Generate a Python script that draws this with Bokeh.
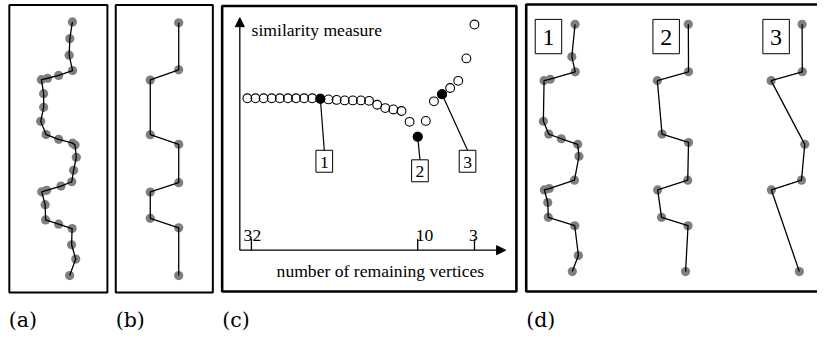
import numpy as np
from bokeh.plotting import figure
from bokeh.models import Range1d, Arrow, NormalHead
from bokeh.core.properties import value
from bokeh.embed import file_html
from bokeh.resources import INLINE

# ---------------- data ----------------
# (a) noisy polyline, shape units (x to the right, y downwards)
noisy_x = [32.3, 29.7, 29.0, 32.5, 18.3, 7.0, 0.7, 3.0, 3.0, 0.0, 5.5, 18.3, 32.5, 35.0,
           36.3, 33.5, 31.7, 20.7, 6.0, 1.0, 4.5, 5.0, 18.3, 32.0, 31.5, 35.7, 29.5]
noisy_y = [0.0, 17.5, 34.8, 51.0, 56.0, 59.0, 60.5, 75.2, 89.5, 104.2, 118.0, 123.0, 127.0, 129.0,
           141.8, 155.5, 167.5, 172.0, 176.5, 178.0, 191.5, 207.5, 212.0, 216.5, 233.5, 248.5, 265.8]
# (b) original polyline
clean_x = [29, 29, 0, 0, 29, 29, 0, 0, 29, 29]
clean_y = [0.8, 50.2, 60.8, 118.2, 128.2, 168.5, 178.2, 205.8, 215.8, 265.8]
# (d) simplifications 1, 2, 3: kept vertices of the noisy polyline
simpl_1 = [0, 2, 3, 5, 6, 9, 10, 11, 13, 14, 16, 18, 19, 20, 21, 23, 25, 26]
simpl_2 = [0, 3, 6, 10, 12, 16, 19, 21, 23, 26]
simpl_3 = [0, 3, 6, 13, 16, 19, 26]
# (c) similarity measure vs number of remaining vertices
n_vertices = list(range(31, 2, -1))
similarity = [1.592, 1.592, 1.592, 1.592, 1.592, 1.592, 1.592, 1.592, 1.592,
              1.587, 1.580, 1.575, 1.570, 1.570, 1.570, 1.565, 1.524, 1.489,
              1.475, 1.459, 1.345, 1.190, 1.355, 1.560, 1.635, 1.700, 1.775,
              2.010, 2.365]
marked_n = [22, 10, 7]
marked_labels = ["1", "2", "3"]
tick_labels = ["32", "10", "3"]
tick_pos = [30.5, 10, 3]
panel_labels = ["(a)", "(b)", "(c)", "(d)"]

SERIF = value("Liberation Serif")
GRAY = "#7f7f7f"

p = figure(width=817, height=332, output_backend="svg", toolbar_location=None,
           x_range=Range1d(0, 833), y_range=Range1d(348, 0),
           x_axis_type=None, y_axis_type=None, min_border=0)
p.outline_line_color = None
p.grid.visible = False
p.background_fill_color = "white"

# ---------- panel boxes ----------
p.quad(left=[9, 117.5], right=[109, 216.5], top=[4.8, 4.8], bottom=[306, 306],
       fill_alpha=0, line_color="black", line_width=2)
p.quad(left=[226, 536], right=[526, 860], top=[5.8, 4.2], bottom=[305, 305],
       fill_alpha=0, line_color="black", line_width=2.6)
p.text(x=[8.5, 117.5, 226, 536], y=[334.5] * 4, text=panel_labels,
       text_font=value("DejaVu Serif"), text_font_size="20.5px",
       text_baseline="alphabetic", text_align="left", text_color="black")


def draw_shape(xs, ys, x0, y0, sy):
    X = x0 + np.asarray(xs, float)
    Y = y0 + np.asarray(ys, float) * sy
    p.scatter(X, Y, size=9.2, fill_color=GRAY, line_color=None)
    p.line(X, Y, line_color="black", line_width=1.3)


nx = np.asarray(noisy_x)
ny = np.asarray(noisy_y)
# (a)
draw_shape(nx, ny, 41, 22.5, 1.0)
# (b)
draw_shape(clean_x, clean_y, 152.7, 22.5, 1.0)
# (d)
for idx, x0 in zip([simpl_1, simpl_2, simpl_3], [553.5, 669, 785]):
    draw_shape(nx[idx], ny[idx], x0, 25, 0.975)

# number boxes in (d)
dbox_x = [558.7, 678.7, 790.8]
p.rect(x=dbox_x, y=[37.8] * 3, width=27, height=36, fill_color="white",
       line_color="black", line_width=1)
p.text(x=dbox_x, y=[38.5] * 3, text=marked_labels, text_font=SERIF,
       text_font_size="24px", text_align="center", text_baseline="middle",
       text_color="black")

# ---------- panel (c) ----------
OX, OY = 244, 261.7
def cx(n):
    return 251.7 + (31 - np.asarray(n, float)) * 8.27
def cy(s):
    return OY - 100 * np.asarray(s, float)

p.add_layout(Arrow(end=NormalHead(size=9, fill_color="black", line_color="black"),
                   x_start=OX, y_start=OY, x_end=OX, y_end=18,
                   line_color="black", line_width=1.3))
p.add_layout(Arrow(end=NormalHead(size=9, fill_color="black", line_color="black"),
                   x_start=OX, y_start=OY, x_end=515, y_end=OY,
                   line_color="black", line_width=1.3))
tx = cx(tick_pos)
p.segment(x0=tx, y0=[250] * 3, x1=tx, y1=[OY] * 3, line_color="black", line_width=1.3)
p.text(x=tx + np.array([1.0, 7.0, -1.0]), y=[246.5] * 3, text=tick_labels,
       text_font=SERIF, text_font_size="17.6px", text_align="center",
       text_baseline="alphabetic", text_color="black")
p.text(x=[256], y=[30.5], text=["similarity measure"], text_font=SERIF,
       text_font_size="17.6px", text_align="left", text_baseline="alphabetic",
       text_color="black")
p.text(x=[281.5], y=[284], text=["number of remaining vertices"], text_font=SERIF,
       text_font_size="17.6px", text_align="left", text_baseline="alphabetic",
       text_color="black")

sim_x = cx(n_vertices)
sim_y = cy(similarity)
p.scatter(sim_x, sim_y, size=8.8, fill_alpha=0, line_color="black", line_width=1.1)
sim_map = dict(zip(n_vertices, similarity))
mx = cx(marked_n)
my = cy([sim_map[n] for n in marked_n])
p.scatter(mx, my, size=8.8, fill_color="black", line_color="black", line_width=1.1)

# callouts
cb_x = mx + np.array([4.0, 2.3, 26.0])
cb_top = np.array([157.0, 167.0, 157.0])
p.segment(x0=mx, y0=my, x1=cb_x, y1=cb_top, line_color="black", line_width=1.2)
p.rect(x=cb_x, y=cb_top + 11.5, width=17, height=23, fill_color="white",
       line_color="black", line_width=1)
p.text(x=cb_x, y=cb_top + 12.5, text=marked_labels, text_font=SERIF,
       text_font_size="17.6px", text_align="center", text_baseline="middle",
       text_color="black")

open("out.html", "w").write(file_html(p, INLINE))
